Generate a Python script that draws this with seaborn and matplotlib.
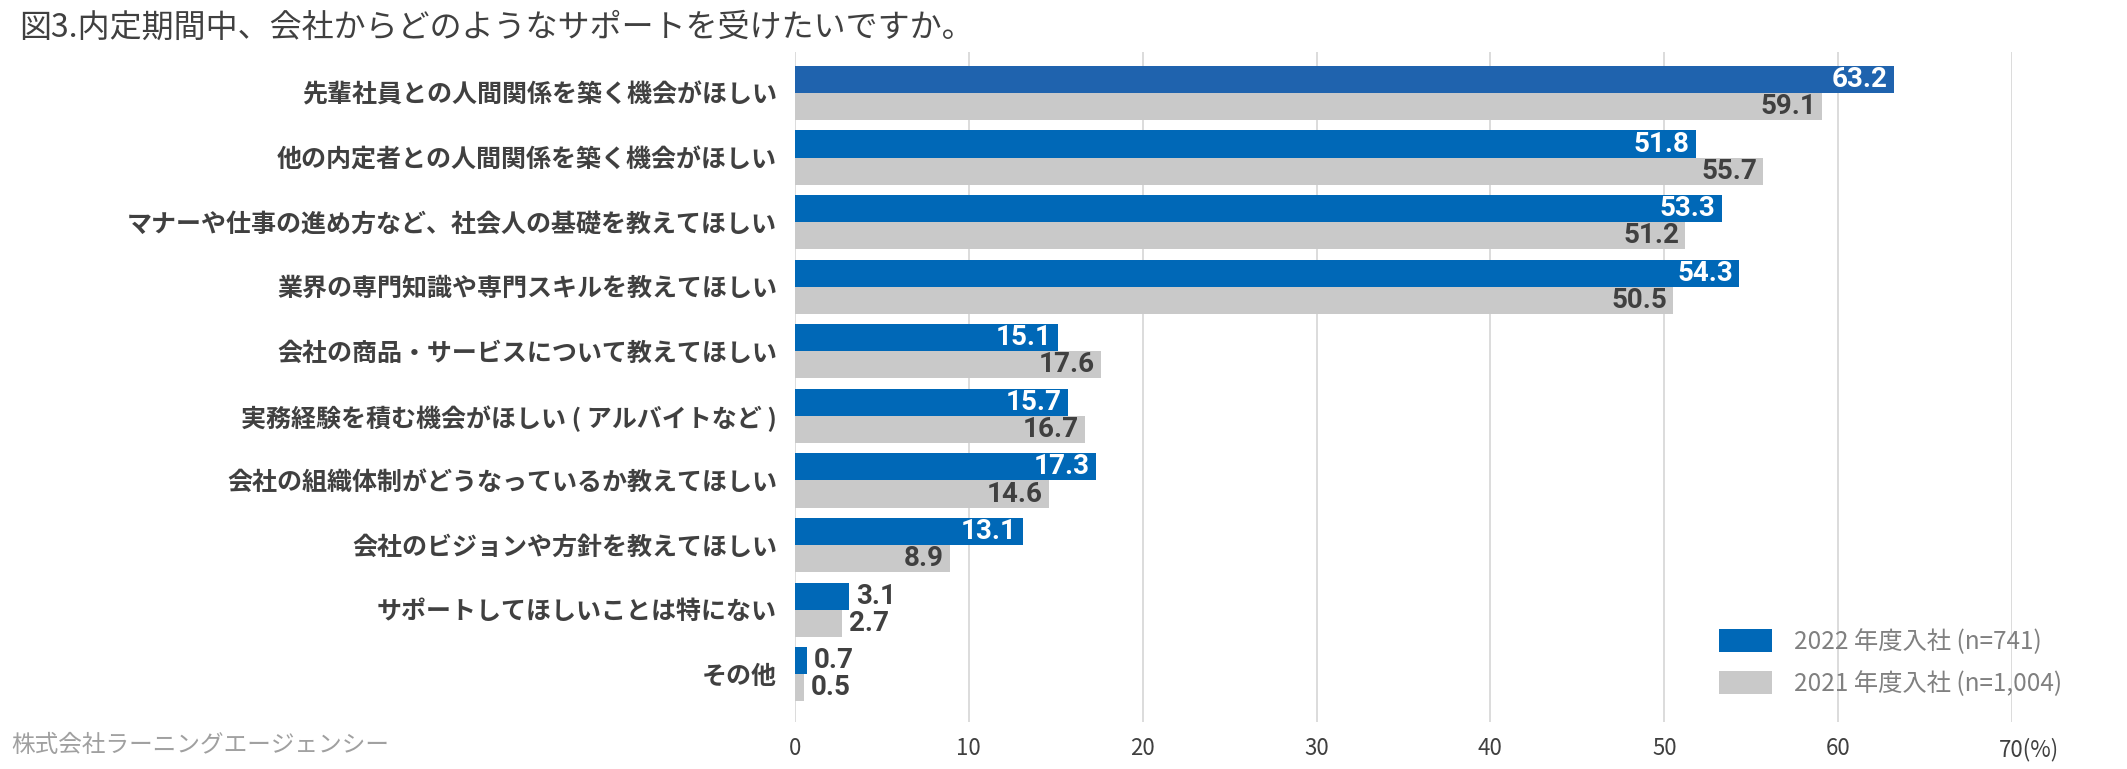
import numpy as np
import pandas as pd
import matplotlib
matplotlib.use('Agg')
import matplotlib.pyplot as plt
import matplotlib.transforms as mtransforms
from matplotlib.patches import Patch
import seaborn as sns

# data
items = [
    '先輩社員との人間関係を築く機会がほしい',
    '他の内定者との人間関係を築く機会がほしい',
    'マナーや仕事の進め方など、社会人の基礎を教えてほしい',
    '業界の専門知識や専門スキルを教えてほしい',
    '会社の商品・サービスについて教えてほしい',
    '実務経験を積む機会がほしい ( アルバイトなど )',
    '会社の組織体制がどうなっているか教えてほしい',
    '会社のビジョンや方針を教えてほしい',
    'サポートしてほしいことは特にない',
    'その他',
]
y2022 = [63.2, 51.8, 53.3, 54.3, 15.1, 15.7, 17.3, 13.1, 3.1, 0.7]
y2021 = [59.1, 55.7, 51.2, 50.5, 17.6, 16.7, 14.6, 8.9, 2.7, 0.5]
series = ['2022 年度入社 (n=741)', '2021 年度入社 (n=1,004)']
xticks = [0, 10, 20, 30, 40, 50, 60, 70]

blue = '#0068b7'
gray = '#c9c9c9'
dark = '#404040'

df = pd.DataFrame({
    'item': items * 2,
    'value': y2022 + y2021,
    'year': [series[0]] * len(items) + [series[1]] * len(items),
})

sns.set_style('white')
plt.rcParams['font.family'] = ['Noto Sans CJK JP', 'DejaVu Sans']

fig = plt.figure(figsize=(21.27, 7.69), dpi=100)
ax = fig.add_axes([795 / 2127, 1 - 722 / 769, (2012 - 795) / 2127, (722 - 52) / 769])

sns.barplot(data=df, x='value', y='item', hue='year', order=items,
            hue_order=series, palette=[blue, gray], orient='h',
            width=0.84, gap=0, saturation=1, ax=ax, legend=False,
            edgecolor='none', linewidth=0)

# first bar is highlighted a little differently
ax.containers[0].patches[0].set_facecolor('#1f63ae')

ax.set_xlim(0, 70)
ax.set_ylim(9.74, -0.635)
ax.set_xticks(xticks)
ax.set_xticklabels([str(t) for t in xticks[:-1]] + ['70(%)'])
ax.grid(axis='x', color='#d9d9d9', linewidth=1.3)
ax.grid(axis='y', visible=False)
ax.set_axisbelow(True)
for s in ax.spines.values():
    s.set_visible(False)
ax.set_xlabel('')
ax.set_ylabel('')
ax.tick_params(axis='x', length=0, pad=11, labelsize=16, labelcolor=dark)
ax.tick_params(axis='y', length=0, pad=13, labelsize=18, labelcolor=dark)
for lbl in ax.get_yticklabels():
    lbl.set_fontweight('bold')

last = ax.get_xticklabels()[-1]
last.set_ha('left')
last.set_transform(last.get_transform() + mtransforms.ScaledTranslation(-13 / 100, 0, fig.dpi_scale_trans))

# value labels
for ci, cont in enumerate(ax.containers):
    vals = y2022 if ci == 0 else y2021
    for bar, v in zip(cont.patches, vals):
        yc = bar.get_y() + bar.get_height() / 2
        if v > 5:
            ax.text(v - 0.35, yc, f'{v:.1f}', ha='right', va='center',
                    fontsize=20, fontweight='bold', family='Roboto',
                    color='white' if ci == 0 else dark)
        else:
            ax.text(v + 0.4, yc, f'{v:.1f}', ha='left', va='center',
                    fontsize=20, fontweight='bold', family='Roboto',
                    color=dark)

handles = [Patch(facecolor=blue, edgecolor='none'), Patch(facecolor=gray, edgecolor='none')]
leg = fig.legend(handles, series, loc='upper left', bbox_to_anchor=(1697 / 2127, 1 - 607 / 769),
                 frameon=False, fontsize=17.5, handlelength=2.2, handleheight=1.1,
                 handletextpad=0.9, labelspacing=0.65)
for t in leg.get_texts():
    t.set_color('#808080')

fig.text(19 / 2127, 1 - 28 / 769, '図3.内定期間中、会社からどのようなサポートを受けたいですか。',
         fontsize=23, color=dark, va='center', ha='left')
fig.text(11 / 2127, 1 - 745 / 769, '株式会社ラーニングエージェンシー',
         fontsize=17, color='#a0a0a0', va='center', ha='left')

fig.savefig('out.png', dpi=100)
